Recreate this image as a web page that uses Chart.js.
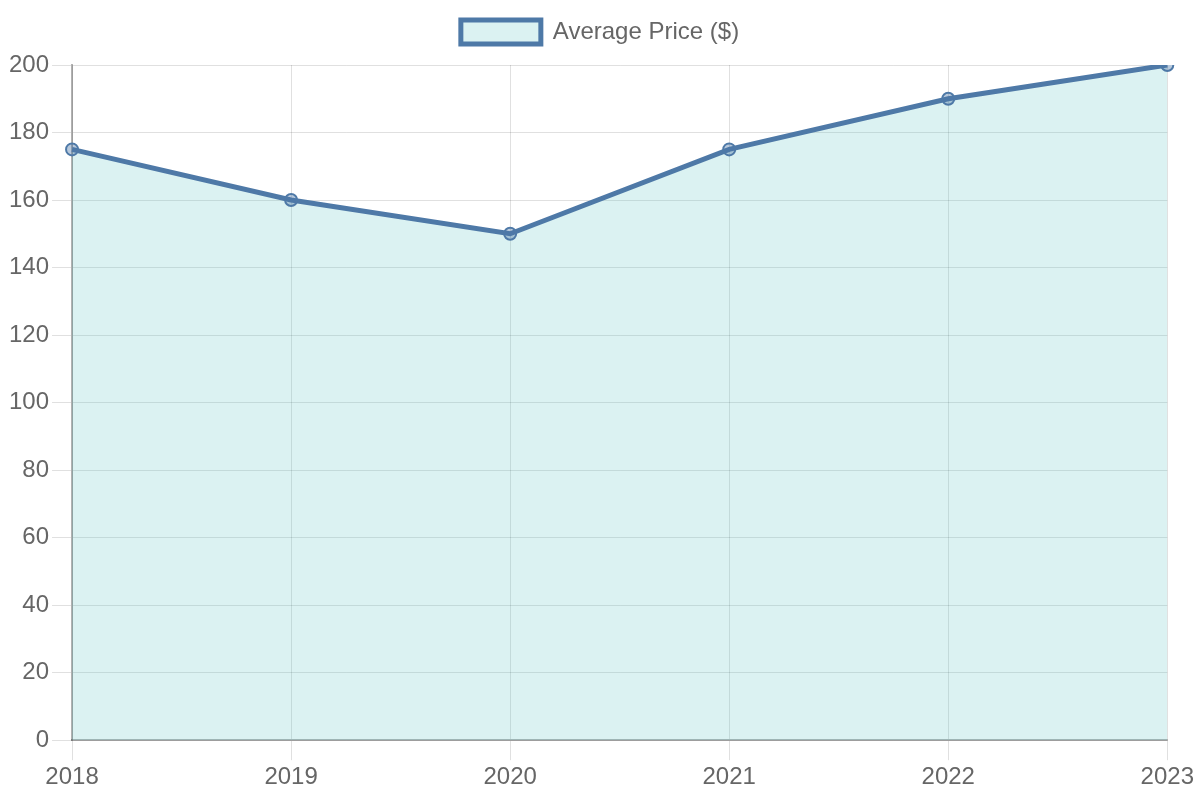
<!DOCTYPE html>
<html><head><meta charset="utf-8">
<script src="https://cdn.jsdelivr.net/npm/chart.js@4"></script>
<style>html,body{margin:0;padding:0;background:#fff}#wrap{width:1200px;height:800px}</style>
</head><body><div id="wrap"><canvas id="c"></canvas></div>
<script>
const years = ['2018','2019','2020','2021','2022','2023'];
const avgPrice = [175, 160, 150, 175, 190, 200];
const seriesLabel = 'Average Price ($)';

Chart.defaults.font.family = '"Liberation Sans", Arial, sans-serif';
Chart.defaults.font.size = 24;
Chart.defaults.color = '#666';

const legendSpacer = {
  id: 'legendSpacer',
  afterInit(chart) {
    const lg = chart.legend;
    if (!lg) return;
    const origFit = lg.fit;
    lg.fit = function () { origFit.call(this); this.height += 11; };
  }
};

new Chart(document.getElementById('c'), {
  type: 'line',
  data: {
    labels: years,
    datasets: [{
      label: seriesLabel,
      data: avgPrice,
      borderColor: '#4e79a7',
      backgroundColor: 'rgba(75,192,192,0.2)',
      fill: true,
      borderWidth: 5,
      tension: 0,
      pointRadius: 6,
      pointBorderWidth: 2,
      pointBackgroundColor: 'rgba(78,121,167,0.4)',
      pointBorderColor: '#4e79a7'
    }]
  },
  plugins: [legendSpacer],
  options: {
    responsive: true,
    maintainAspectRatio: false,
    animation: false,
    layout: { padding: { left: 6, right: 6, top: 10, bottom: 5 } },
    plugins: {
      legend: {
        labels: { boxWidth: 80, boxHeight: 24, padding: 10, font: { size: 24 } }
      },
      tooltip: { enabled: false }
    },
    scales: {
      x: {
        afterFit(s) { s.paddingRight += 3; },
        grid: { color: 'rgba(0,0,0,0.12)', tickLength: 20 },
        border: { color: 'rgba(0,0,0,0.3)', width: 2 },
        ticks: { font: { size: 24 }, maxRotation: 0 }
      },
      y: {
        min: 0, max: 200,
        grid: { color: 'rgba(0,0,0,0.12)', tickLength: 20 },
        border: { color: 'rgba(0,0,0,0.3)', width: 2 },
        ticks: { stepSize: 20, font: { size: 24 } }
      }
    }
  }
});
</script></body></html>
